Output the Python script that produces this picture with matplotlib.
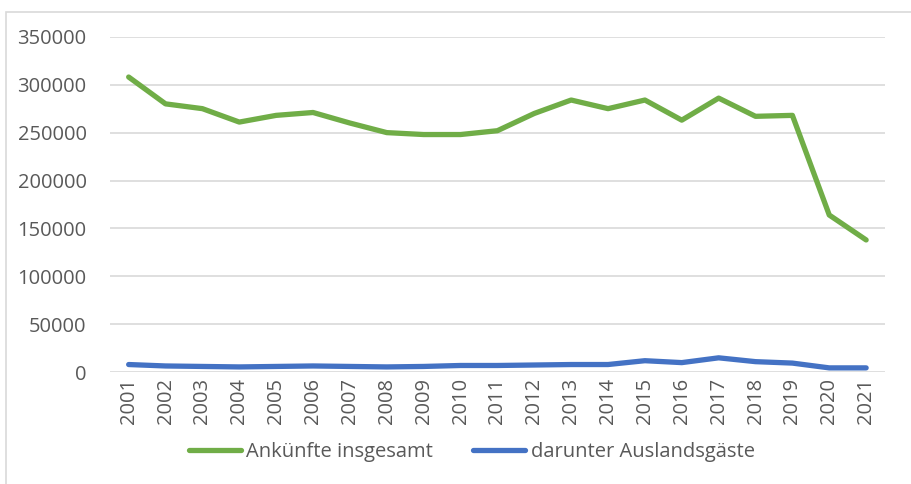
import matplotlib.pyplot as plt
from matplotlib.patches import Rectangle

years = [str(y) for y in range(2001, 2022)]
ankuenfte = [308000, 280000, 275000, 261000, 268000, 271000, 260000, 250000, 248000, 248000,
             252000, 270000, 284000, 275000, 284000, 263000, 286000, 267000, 268000, 164000, 138000]
ausland = [8000, 6500, 6000, 5500, 6000, 6500, 6000, 5500, 6000, 7000,
           7000, 7500, 8000, 8000, 12000, 10000, 15000, 11000, 9500, 4500, 4500]

plt.rcParams['font.family'] = ['Open Sans', 'DejaVu Sans']

fig = plt.figure(figsize=(9.11, 4.84), dpi=100)
ax = fig.add_axes([0.121, 0.231, 0.850, 0.693])

x = range(len(years))
ax.plot(x, ankuenfte, color='#70AD47', lw=3.8, solid_capstyle='round', label='Ankünfte insgesamt')
ax.plot(x, ausland, color='#4472C4', lw=3.8, solid_capstyle='round', label='darunter Auslandsgäste')

ax.set_xlim(-0.5, len(years) - 0.5)
ax.set_ylim(0, 350000)
ax.set_yticks(range(0, 350001, 50000))
ax.set_xticks(list(x))
ax.set_xticklabels(years, rotation=90)
ax.tick_params(length=0, labelsize=14.5, labelcolor='#595959')
ax.tick_params(axis='y', pad=17)
ax.tick_params(axis='x', pad=4)
ax.grid(axis='y', color='#D9D9D9', lw=1.2)
ax.set_axisbelow(True)
for s in ax.spines.values():
    s.set_visible(False)

fig.legend(loc='center', bbox_to_anchor=(0.5176, 0.066), ncol=2, frameon=False,
           fontsize=14.5, labelcolor='#595959', handlelength=2.6, columnspacing=2.0,
           handletextpad=0.25)

# outer chart border
fig.patches.append(Rectangle((6 / 911, -0.1), 1.0, (484 - 12) / 484 + 0.1, transform=fig.transFigure,
                             fill=False, edgecolor='#D9D9D9', lw=1.2))

fig.savefig('out.png', dpi=100)
